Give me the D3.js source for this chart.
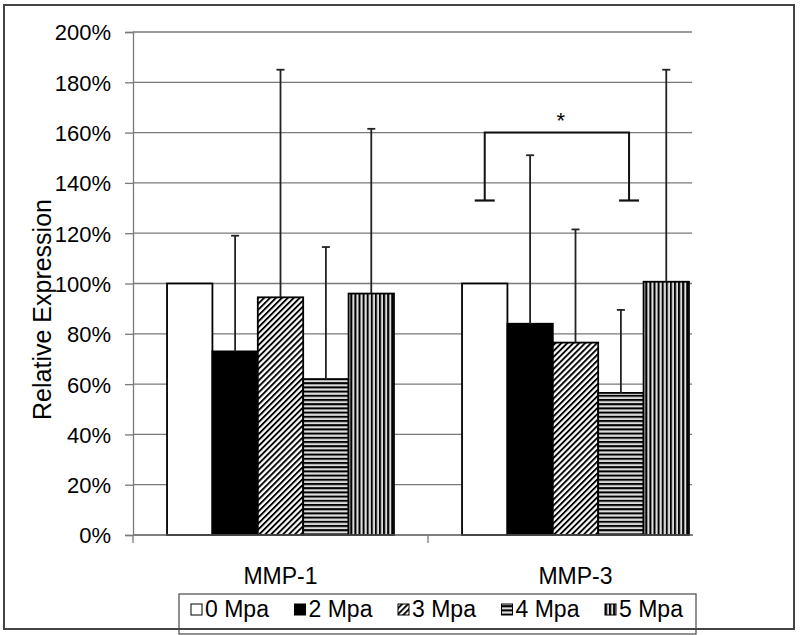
<!DOCTYPE html>
<html>
<head>
<meta charset="utf-8">
<script src="https://cdn.jsdelivr.net/npm/d3@7"></script>
<style>
  html, body { margin: 0; padding: 0; background: #fff; }
  svg { display: block; font-family: Arial, "Liberation Sans", sans-serif; }
</style>
</head>
<body>
<svg id="chart" width="800" height="635"></svg>
<script>
// ---------- data ----------
const categories = ["MMP-1", "MMP-3"];
const seriesNames = ["0 Mpa", "2 Mpa", "3 Mpa", "4 Mpa", "5 Mpa"];
const meanMMP1 = [100, 73, 94.5, 62, 96];
const meanMMP3 = [100, 84, 76.5, 56.5, 100.7];
const errTopMMP1 = [null, 119, 185, 114.5, 161.5];
const errTopMMP3 = [null, 151, 121.5, 89.5, 185];
const yTicks = [0, 20, 40, 60, 80, 100, 120, 140, 160, 180, 200];
const yLabel = "Relative Expression";
const bracket = { category: "MMP-3", from: "0 Mpa", to: "4 Mpa", top: 160, bottom: 133, label: "*" };

// ---------- layout ----------
const svg = d3.select("#chart");
const plot = { left: 133, right: 723, top: 32, bottom: 535, clipRight: 692 };

const x0 = d3.scaleBand().domain(categories).range([plot.left, plot.right]).paddingInner(0).paddingOuter(0);
const x1 = d3.scaleBand().domain(seriesNames).range([0, x0.bandwidth()]).paddingInner(0).paddingOuter(0.75);
const y = d3.scaleLinear().domain([0, 200]).range([plot.bottom, plot.top]);

const fills = {
  "0 Mpa": "#ffffff",
  "2 Mpa": "#000000",
  "3 Mpa": "url(#pDiag)",
  "4 Mpa": "url(#pHoriz)",
  "5 Mpa": "url(#pVert)"
};

// ---------- patterns ----------
const defs = svg.append("defs");
const pd = defs.append("pattern").attr("id", "pDiag").attr("patternUnits", "userSpaceOnUse")
  .attr("width", 4.2).attr("height", 4.2).attr("patternTransform", "rotate(45)");
pd.append("rect").attr("width", 4.2).attr("height", 4.2).attr("fill", "#fff");
pd.append("rect").attr("width", 1.9).attr("height", 4.2).attr("fill", "#000");

const ph = defs.append("pattern").attr("id", "pHoriz").attr("patternUnits", "userSpaceOnUse")
  .attr("width", 4.2).attr("height", 4.2);
ph.append("rect").attr("width", 4.2).attr("height", 4.2).attr("fill", "#ddd");
ph.append("rect").attr("width", 4.2).attr("height", 2).attr("fill", "#000");

const pv = defs.append("pattern").attr("id", "pVert").attr("patternUnits", "userSpaceOnUse")
  .attr("width", 4.1).attr("height", 4.1);
pv.append("rect").attr("width", 4.1).attr("height", 4.1).attr("fill", "#ddd");
pv.append("rect").attr("width", 2).attr("height", 4.1).attr("fill", "#000");

defs.append("clipPath").attr("id", "plotClip").append("rect")
  .attr("x", 0).attr("y", 0).attr("width", plot.clipRight + 1).attr("height", 635);

// ---------- outer frame ----------
svg.append("rect").attr("x", 4).attr("y", 5).attr("width", 790).attr("height", 624)
  .attr("fill", "#fff").attr("stroke", "#444").attr("stroke-width", 2);

const g = svg.append("g").attr("clip-path", "url(#plotClip)");

// gridlines
g.append("g").selectAll("line").data(yTicks.filter(d => d > 0)).join("line")
  .attr("x1", plot.left).attr("x2", plot.clipRight)
  .attr("y1", d => y(d)).attr("y2", d => y(d))
  .attr("stroke", "#7a7a7a").attr("stroke-width", 1.3);

// y axis
const yAxis = d3.axisLeft(y).tickValues(yTicks).tickFormat(d => d + "%").tickSize(8).tickPadding(14);
const ya = svg.append("g").attr("transform", `translate(${plot.left},0)`).call(yAxis);
ya.select(".domain").attr("stroke", "#7a7a7a").attr("stroke-width", 1.3);
ya.selectAll(".tick line").attr("stroke", "#7a7a7a").attr("stroke-width", 1.3);
ya.selectAll(".tick text").attr("font-size", 22).attr("fill", "#000")
  .attr("font-family", "Arial, 'Liberation Sans', sans-serif").attr("dy", "0.36em");

// y label
svg.append("text").attr("transform", `translate(51,${(plot.top + plot.bottom) / 2 + 26}) rotate(-90)`)
  .attr("text-anchor", "middle").attr("font-size", 25).text(yLabel);

// bars
const rows = categories.map((c, i) => ({
  cat: c,
  vals: seriesNames.map((s, j) => ({
    cat: c, s,
    v: (i === 0 ? meanMMP1 : meanMMP3)[j],
    e: (i === 0 ? errTopMMP1 : errTopMMP3)[j]
  }))
}));

const groups = g.selectAll("g.grp").data(rows).join("g").attr("class", "grp")
  .attr("transform", d => `translate(${x0(d.cat)},0)`);

groups.selectAll("rect").data(d => d.vals).join("rect")
  .attr("x", d => x1(d.s)).attr("width", x1.bandwidth())
  .attr("y", d => y(d.v)).attr("height", d => y(0) - y(d.v))
  .attr("fill", d => fills[d.s]).attr("stroke", "#000").attr("stroke-width", 1.8);

// error bars (upper only)
const eb = groups.selectAll("g.err").data(d => d.vals.filter(v => v.e != null)).join("g").attr("class", "err");
eb.append("line")
  .attr("x1", d => x1(d.s) + x1.bandwidth() / 2).attr("x2", d => x1(d.s) + x1.bandwidth() / 2)
  .attr("y1", d => y(d.v)).attr("y2", d => y(d.e))
  .attr("stroke", "#222").attr("stroke-width", 1.8);
eb.append("line")
  .attr("x1", d => x1(d.s) + x1.bandwidth() / 2 - 4).attr("x2", d => x1(d.s) + x1.bandwidth() / 2 + 4)
  .attr("y1", d => y(d.e)).attr("y2", d => y(d.e))
  .attr("stroke", "#222").attr("stroke-width", 1.8);

// baseline (x axis)
g.append("line").attr("x1", plot.left).attr("x2", plot.clipRight + 1)
  .attr("y1", y(0)).attr("y2", y(0)).attr("stroke", "#555").attr("stroke-width", 1.4);
// category tick marks
const catBounds = [plot.left, x0(categories[1])];
svg.append("g").selectAll("line").data(catBounds).join("line")
  .attr("x1", d => d).attr("x2", d => d).attr("y1", y(0)).attr("y2", y(0) + 8)
  .attr("stroke", "#7a7a7a").attr("stroke-width", 1.3);

// category labels
svg.append("g").selectAll("text").data(categories).join("text")
  .attr("x", d => x0(d) + x0.bandwidth() / 2).attr("y", 584)
  .attr("text-anchor", "middle").attr("font-size", 23).text(d => d);

// significance bracket
const bx0 = x0(bracket.category);
const bl = bx0 + x1(bracket.from) + x1.bandwidth() / 2;
const br = bx0 + x1(bracket.to) + x1.bandwidth() * 0.68;
const bpath = d3.path();
bpath.moveTo(bl, y(bracket.bottom)); bpath.lineTo(bl, y(bracket.top));
bpath.lineTo(br, y(bracket.top)); bpath.lineTo(br, y(bracket.bottom));
svg.append("path").attr("d", bpath.toString()).attr("fill", "none")
  .attr("stroke", "#111").attr("stroke-width", 2);
svg.append("g").selectAll("line").data([bl, br]).join("line")
  .attr("x1", d => d - 10).attr("x2", d => d + 10)
  .attr("y1", y(bracket.bottom)).attr("y2", y(bracket.bottom))
  .attr("stroke", "#111").attr("stroke-width", 2.2);
svg.append("text").attr("x", (bl + br) / 2 + 4).attr("y", y(bracket.top) - 5)
  .attr("text-anchor", "middle").attr("font-size", 22).text(bracket.label);

// legend
const legend = svg.append("g");
legend.append("rect").attr("x", 179).attr("y", 594).attr("width", 517).attr("height", 40)
  .attr("fill", "#fff").attr("stroke", "#555").attr("stroke-width", 1.3);
const li = legend.selectAll("g.li").data(seriesNames).join("g").attr("class", "li")
  .attr("transform", (d, i) => `translate(${191 + i * 103.5},601)`);
li.append("rect").attr("x", 0).attr("y", 3).attr("width", 11).attr("height", 11)
  .attr("fill", d => fills[d]).attr("stroke", "#000").attr("stroke-width", 1);
li.append("text").attr("x", 14).attr("y", 16).attr("font-size", 23).text(d => d);

// redraw outer frame bottom edge over legend
svg.append("line").attr("x1", 4).attr("x2", 794).attr("y1", 629).attr("y2", 629)
  .attr("stroke", "#444").attr("stroke-width", 2);
</script>
</body>
</html>
